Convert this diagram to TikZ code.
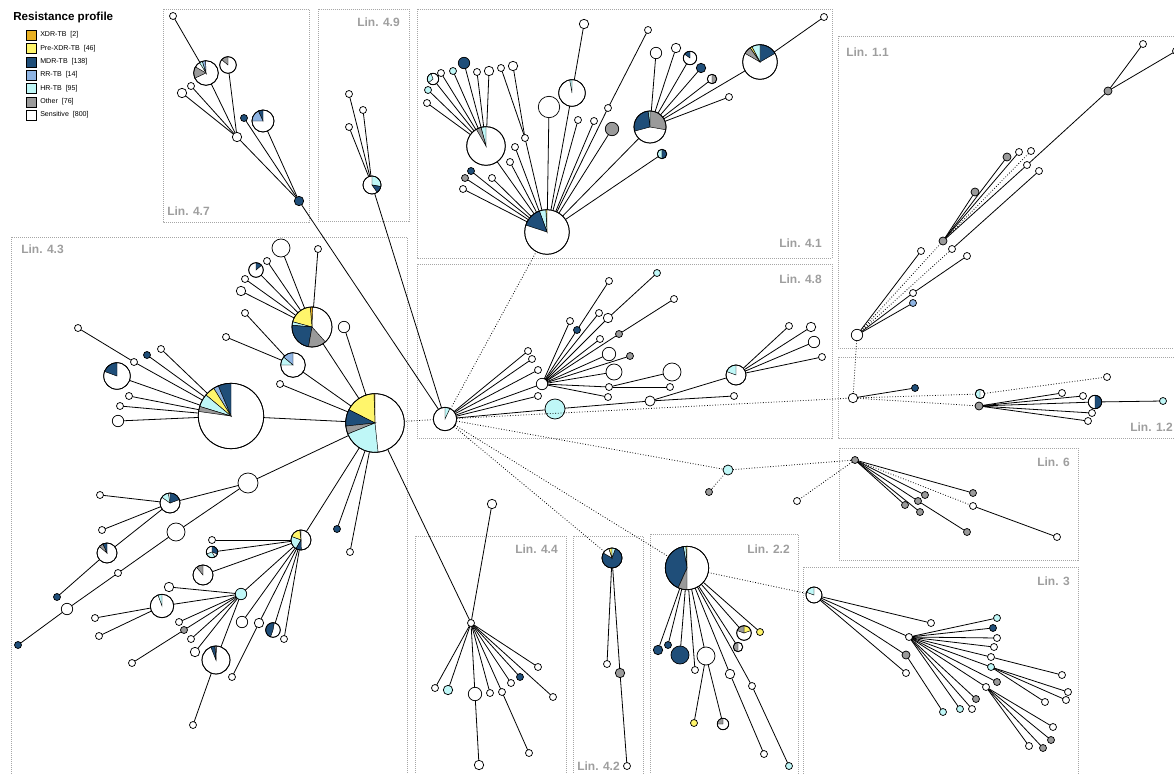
\documentclass[tikz,border=0pt]{standalone}
\usepackage{fontspec}
\setsansfont{Liberation Sans}
\definecolor{xdr}{HTML}{E8B023}
\definecolor{pre}{HTML}{FFF56B}
\definecolor{mdr}{HTML}{1F4E79}
\definecolor{rr}{HTML}{8EB4E3}
\definecolor{hr}{HTML}{BFF7F7}
\definecolor{oth}{HTML}{9A9A9A}
\tikzset{
 nd/.style={circle, draw=black, line width=0.55pt, inner sep=0pt, outer sep=0pt, fill=white},
 ed/.style={line width=0.6pt},
 dt/.style={line width=0.6pt, dash pattern=on 0.6pt off 1.4pt},
 bx/.style={draw=black!35, line width=0.6pt, dash pattern=on 0.75pt off 0.75pt},
 lb/.style={text=black!38, font=\sffamily\bfseries\fontsize{9}{10}\selectfont, inner sep=0pt},
 lg/.style={font=\sffamily\fontsize{5.3}{6}\selectfont, inner sep=0pt, anchor=west},
 lgb/.style={draw=black, line width=0.5pt, minimum size=7.5pt, inner sep=0pt}
}
\newcommand{\Nd}[4][white]{\node[nd, fill=#1, minimum size=#4*1.5pt] (#2) at (#3) {};}
\newcommand{\Pn}[4]{%
 \node[nd, minimum size=#3*1.5pt] (#1) at (#2) {};
 \foreach \pa/\pb/\pc in {#4} {\filldraw[fill=\pc, draw=black, line width=0.35pt] (#1.center) -- ++({\pa}:{#3*0.75pt}) arc[start angle=\pa, end angle=\pb, radius=#3*0.75pt] -- cycle;}
 \draw[line width=0.55pt] (#1.center) circle[radius=#3*0.75pt];}
\begin{document}
\begin{tikzpicture}[x=0.75pt,y=-0.75pt]
\useasboundingbox (0,0) rectangle (1174,774);
% boxes
\draw[bx] (163,9) rectangle (309,222);
\draw[bx] (318,9) rectangle (409,221);
\draw[bx] (417,9) rectangle (832,258);
\draw[bx] (11,237) rectangle (407,800);
\draw[bx] (417,264) rectangle (832,438);
\draw[bx] (838,36) rectangle (1190,348);
\draw[bx] (838,357) rectangle (1190,438);
\draw[bx] (839,448) rectangle (1078,560);
\draw[bx] (415,536) rectangle (566,800);
\draw[bx] (573,536) rectangle (643,800);
\draw[bx] (650,534) rectangle (798,800);
\draw[bx] (803,567) rectangle (1078,800);
\node[lb, anchor=west] (L47) at (167,211) {Lin. 4.7};
\node[lb, anchor=east] (L49) at (400,22) {Lin. 4.9};
\node[lb, anchor=east] (L41) at (822,243) {Lin. 4.1};
\node[lb, anchor=west] (L43) at (21,249) {Lin. 4.3};
\node[lb, anchor=east] (L48) at (822,279) {Lin. 4.8};
\node[lb, anchor=west] (L11) at (846,52) {Lin. 1.1};
\node[lb, anchor=east] (L12) at (1173,427) {Lin. 1.2};
\node[lb, anchor=east] (L6) at (1070,462) {Lin. 6};
\node[lb, anchor=east] (L44) at (558,549) {Lin. 4.4};
\node[lb, anchor=west] (L42) at (577,766) {Lin. 4.2};
\node[lb, anchor=east] (L22) at (790,549) {Lin. 2.2};
\node[lb, anchor=east] (L3) at (1070,581) {Lin. 3};
% legend
\node[font=\sffamily\bfseries\fontsize{8.7}{10}\selectfont, anchor=west, inner sep=0pt] (lt) at (13,18) {Resistance profile};
\node[lgb, fill=xdr] (l1) at (31,35) {}; \node[lg] (l1t) at (40,35) {XDR-TB~~[2]};
\node[lgb, fill=pre] (l2) at (31,48.5) {}; \node[lg] (l2t) at (40,48.5) {Pre-XDR-TB~~[46]};
\node[lgb, fill=mdr] (l3) at (31,62) {}; \node[lg] (l3t) at (40,62) {MDR-TB~~[138]};
\node[lgb, fill=rr] (l4) at (31,75) {}; \node[lg] (l4t) at (40,75) {RR-TB~~[14]};
\node[lgb, fill=hr] (l5) at (31,88.5) {}; \node[lg] (l5t) at (40,88.5) {HR-TB~~[95]};
\node[lgb, fill=oth] (l6) at (31,102) {}; \node[lg] (l6t) at (40,102) {Other~~[76]};
\node[lgb, fill=white] (l7) at (31,115) {}; \node[lg] (l7t) at (40,115) {Sensitive~~[800]};
% Lin 4.7
\Nd{n1}{173,16}{3.5}
\Pn{n2}{206,73}{12.3}{92/108/rr,108/122/hr,150/205/oth}
\Pn{n3}{228,65}{8.3}{90/140/oth}
\Nd{n4}{191,86}{3.5}
\Nd{n5}{182,93}{4.7}
\Nd{n6}{237,137}{4.7}
\Nd[mdr]{n7}{244,118}{3.5}
\Pn{n8}{263,121}{11}{90/115/mdr,115/180/rr}
\Nd[mdr]{n9}{299,201}{4.7}
% Lin 4.9
\Nd{a1}{349,94}{3.5}
\Nd{a2}{363,110}{3.5}
\Nd{a3}{349,127}{3.5}
\Pn{a4}{372,185}{9}{90/-10/hr,-10/-55/mdr}
% Lin 4.1
\Pn{b0}{547,232}{22.3}{90/93/pre,93/110/hr,110/162/mdr}
\Pn{b1}{486,146}{19.3}{90/105/hr,105/120/oth}
\Pn{b1a}{433,79}{5.7}{110/220/hr}
\Nd[hr]{b1b}{428,90}{3.5}
\Nd{b1c}{427,103}{3.5}
\Nd{b1d}{441,73}{3.5}
\Nd[hr]{b1e}{453,71}{3.5}
\Nd[mdr]{b1f}{464,63}{5.7}
\Nd{b1g}{477,72}{3.5}
\Nd{b1h}{489,71}{4.7}
\Nd{b2a}{525,138}{3.5}
\Nd{b2b}{501,68}{3.5}
\Nd{b2c}{513,66}{4.7}
\Nd{b3}{549,107}{10.7}
\Pn{b4}{572,93}{13.3}{90/100/hr}
\Nd{b4a}{584,24}{4.7}
\Nd{b5}{515,147}{3.5}
\Nd{b6}{510,162}{3.5}
\Nd{b7}{492,178}{3.5}
\Nd[mdr]{b8}{471,171}{3.5}
\Nd[oth]{b9}{465,178}{3.5}
\Nd{b10}{463,189}{3.5}
\Nd{b11}{578,120}{3.5}
\Nd{b12}{594,121}{3.5}
\Nd{b13}{608,108}{3.5}
\Nd{b13a}{648,30}{3.5}
\Nd[oth]{b14}{612,129}{6.7}
\Pn{b15}{650,127}{16}{90/-10/oth,90/97/hr,97/195/mdr}
\Pn{b16}{662,154}{4.7}{90/270/hr,-90/90/mdr}
\Nd{b15a}{656,53}{5.7}
\Nd{b15b}{676,48}{4.7}
\Pn{b15c}{690,58}{6.7}{90/145/mdr}
\Nd[mdr]{b15d}{701,68}{4.7}
\Pn{b15e}{712,79}{4.7}{-90/90/oth}
\Nd{b15f}{729,97}{3.5}
\Pn{b17}{760,62}{17.3}{90/30/mdr,90/118/hr,118/125/pre,125/150/oth}
\Nd{b17a}{824,17}{3.5}
% Lin 4.3
\Pn{c0}{375,423}{29.3}{90/92/xdr,92/153/pre,153/186/mdr,186/202/oth,202/276/hr}
\Pn{c1}{231,416}{32.7}{90/113/mdr,113/122/rr,122/140/pre,140/163/hr,163/172/oth}
\Nd{c1a}{118,421}{5.7}
\Nd{c1b}{120,406}{3.5}
\Nd{c1c}{129,396}{3.5}
\Pn{c1d}{117,376}{13.3}{90/160/mdr}
\Nd{c1e}{134,362}{3.5}
\Nd{c1f}{78,328}{3.5}
\Nd[mdr]{c1g}{147,355}{3.5}
\Nd{c1h}{161,349}{3.5}
\Pn{c2}{312,327}{20}{88/95/xdr,95/165/pre,165/175/hr,175/260/mdr,260/312/oth}
\Nd{c2a}{281,248}{9}
\Nd{c2b}{318,249}{3.5}
\Nd{c2c}{267,261}{3.5}
\Pn{c2d}{256,270}{7.3}{90/40/mdr}
\Nd{c2e}{245,279}{3.5}
\Nd{c2f}{241,291}{4.7}
\Pn{c3}{293,365}{12.3}{90/140/rr,140/180/hr}
\Nd{c3a}{245,313}{3.5}
\Nd{c3b}{226,337}{3.5}
\Nd{c4}{344,327}{5.7}
\Nd{c5}{280,384}{3.5}
\Nd{d1}{248,483}{10}
\Pn{d2}{170,503}{10}{90/20/mdr,100/145/hr}
\Nd{d2a}{100,495}{3.5}
\Nd{d2b}{102,530}{3.5}
\Pn{d3}{107,553}{10}{90/115/mdr,115/140/oth}
\Nd[mdr]{d3a}{57,597}{3.5}
\Nd{d4x}{176,532}{9}
\Nd{d4y}{118,573}{3.5}
\Nd{d4z}{67,609}{5.7}
\Nd[mdr]{d4w}{18,645}{3.5}
\Pn{d5}{301,540}{10}{90/97/oth,97/160/pre,160/240/hr,240/272/mdr}
\Nd[mdr]{d6}{337,529}{3.5}
\Nd{d7}{350,552}{3.5}
\Nd{d5a}{212,540}{3.5}
\Pn{d5b}{212,552}{5.7}{90/-20/mdr,200/300/hr}
\Pn{d5c}{203,575}{10}{90/130/oth}
\Nd[hr]{d5d}{241,594}{5.7}
\Nd{d5e}{242,622}{5.7}
\Nd{d5f}{259,623}{4.7}
\Pn{d5g}{273,630}{7.3}{80/250/mdr}
\Nd{d5h}{284,639}{3.5}
\Nd{d5fa}{232,677}{3.5}
\Nd{d8a}{169,587}{4.7}
\Pn{d8b}{162,606}{11.7}{90/110/hr}
\Nd{d8c}{179,622}{3.5}
\Nd[oth]{d8d}{184,630}{3.5}
\Nd{d8e}{191,639}{3.5}
\Nd{d8f}{195,652}{4.7}
\Pn{d8g}{216,660}{14}{88/95/oth,95/112/mdr}
\Nd{d8ba}{95,618}{3.5}
\Nd{d8bb}{99,636}{3.5}
\Nd{d8da}{132,663}{3.5}
\Nd{d8ga}{193,725}{3.5}
% Lin 4.8
\Pn{h0}{445,419}{11.7}{90/65/hr}
\Nd{g1}{542,384}{5.7}
\Nd{g2}{528,351}{3.5}
\Nd{g3}{532,359}{3.5}
\Nd{g4}{538,370}{3.5}
\Nd{g5}{538,396}{3.5}
\Nd[hr]{g6}{555,409}{10}
\Nd{g7}{650,401}{5}
\Nd{g8}{734,396}{3.5}
\Pn{g9}{736,375}{10}{90/160/hr}
\Nd{g9a}{789,326}{3.5}
\Nd{g9b}{811,327}{4.7}
\Nd{g9c}{814,342}{5.7}
\Nd{g9d}{822,357}{3.5}
\Nd{g1a}{570,321}{3.5}
\Nd[mdr]{g1b}{577,330}{3.5}
\Nd{g1ba}{609,281}{3.5}
\Nd{g1c}{599,313}{3.5}
\Nd{g1d}{608,318}{4.7}
\Nd[hr]{g1da}{657,273}{3.5}
\Nd{g1e}{600,339}{3.5}
\Nd[oth]{g1f}{619,334}{3.5}
\Nd{g1fa}{674,299}{3.5}
\Nd{g1g}{609,354}{6.7}
\Nd[oth]{g1h}{630,356}{3.5}
\Nd{g1i}{614,372}{8}
\Nd{g1j}{609,387}{3.5}
\Nd{g1ja}{670,387}{3.5}
\Nd{g1jb}{672,372}{9}
\Nd{g1k}{608,397}{3.5}
% Lin 1.1
\Nd{k0}{857,335}{5.7}
\Nd[oth]{k1}{943,241}{4}
\Nd[oth]{k2}{975,192}{4}
\Nd[oth]{k3}{1007,157}{4}
\Nd{k4}{1019,152}{3.5}
\Nd{k5}{1031,151}{3.5}
\Nd{k6}{1027,165}{3.5}
\Nd[oth]{k7}{1108,91}{4}
\Nd{k8}{1143,44}{3.5}
\Nd{k9}{1176,51}{3.5}
\Nd{k10}{1039,171}{3.5}
\Nd{k11}{921,251}{3.5}
\Nd{k12}{952,249}{3.5}
\Nd{k13}{967,256}{3.5}
\Nd{k14}{913,293}{3.5}
\Nd[rr]{k15}{913,303}{3.5}
% Lin 1.2
\Nd{m0}{853,398}{4.7}
\Nd[mdr]{m1}{915,388}{3.5}
\Pn{m2}{980,394}{4.7}{90/270/hr}
\Nd[oth]{m3}{979,406}{4}
\Nd{m4}{1107,377}{3.5}
\Nd{m5}{1062,393}{3.5}
\Nd{m6}{1083,396}{3.5}
\Pn{m7}{1095,402}{6.7}{-90/90/mdr}
\Nd{m8}{1092,413}{3.5}
\Nd{m9}{1088,421}{3.5}
\Nd[hr]{m10}{1163,401}{3.5}
% Lin 6
\Nd[hr]{q0}{728,470}{5}
\Nd[oth]{q1}{709,492}{3.5}
\Nd[oth]{q2}{855,460}{3.5}
\Nd{q3}{797,501}{3.5}
\Nd[oth]{q4}{973,493}{3.5}
\Nd[oth]{q5}{925,495}{3.5}
\Nd[oth]{q6}{918,501}{3.5}
\Nd[oth]{q7}{905,505}{3.5}
\Nd[oth]{q8}{920,512}{3.5}
\Nd[oth]{q9}{967,532}{3.5}
\Nd{q10}{973,506}{3.5}
\Nd{q11}{1057,537}{3.5}
% Lin 4.4
\Nd{e0}{471,623}{3.5}
\Nd{e1}{492,504}{4.7}
\Nd{e2}{435,688}{3.5}
\Nd[hr]{e3}{448,690}{4.7}
\Nd{e4}{475,694}{6.7}
\Nd{e4a}{479,765}{4.7}
\Nd{e5}{490,693}{3.5}
\Nd{e6}{502,692}{3.5}
\Nd{e6a}{529,753}{3.5}
\Nd{e7}{511,683}{3.5}
\Nd[mdr]{e8}{520,677}{3.5}
\Nd{e9}{538,667}{3.5}
\Nd{e10}{553,697}{3.5}
% Lin 4.2
\Pn{f0}{612,558}{10}{150/430/mdr,108/150/white,90/108/pre,70/90/hr}
\Nd{f1}{607,664}{3.5}
\Nd[oth]{f2}{620,673}{4.7}
\Nd{f3}{627,766}{3.5}
% Lin 2.2
\Pn{r0}{687,568}{21.7}{90/93/pre,93/100/hr,100/246/mdr,246/270/oth}
\Nd[mdr]{r1}{658,650}{4.7}
\Nd[mdr]{r2}{668,645}{3.5}
\Nd[mdr]{r3}{680,655}{9}
\Nd{r4}{695,670}{3.5}
\Nd{r5}{706,656}{9}
\Nd[pre]{r5a}{694,723}{3.5}
\Pn{r5b}{723,724}{5.7}{90/180/oth}
\Nd{r6}{730,674}{4.7}
\Nd{r6a}{764,754}{3.5}
\Nd{r7}{752,686}{3.5}
\Nd[hr]{r7a}{789,766}{3.5}
\Pn{r8}{738,647}{4.7}{90/270/oth}
\Pn{r9}{744,633}{7.3}{90/20/pre,90/160/oth}
\Nd[pre]{r10}{760,632}{3.5}
% Lin 3
\Pn{p0}{814,595}{8}{90/160/hr}
\Nd{p1}{931,623}{3.5}
\Nd{p2}{909,637}{3.5}
\Nd[oth]{p3}{906,655}{4}
\Nd{p4}{906,673}{3.5}
\Nd[hr]{p3a}{943,712}{3.5}
\Nd[hr]{p5}{997,618}{3.5}
\Nd[mdr]{p6}{993,628}{3.5}
\Nd{p7}{997,638}{3.5}
\Nd{p8}{994,647}{3.5}
\Nd{p9}{991,657}{3.5}
\Nd[hr]{p10}{991,667}{3.5}
\Nd[oth]{p11}{997,682}{3.5}
\Nd{p12}{986,687}{3.5}
\Nd[oth]{p13}{976,699}{3.5}
\Nd{p14}{972,709}{3.5}
\Nd[hr]{p15}{960,709}{3.5}
\Nd{p9a}{1062,675}{3.5}
\Nd{p10a}{1068,692}{3.5}
\Nd{p10b}{1066,700}{3.5}
\Nd{p10c}{1045,702}{3.5}
\Nd{p12a}{1053,727}{3.5}
\Nd[oth]{p12b}{1051,740}{3.5}
\Nd[oth]{p12c}{1043,748}{3.5}
\Nd{p12d}{1029,746}{3.5}
% solid edges
\foreach \u/\v in {n1/n2,n2/n6,n3/n6,n4/n6,n5/n6,n6/n9,n7/n9,n8/n9,n9/h0,
 a1/a4,a2/a4,a3/a4,a4/h0,
 b0/b1,b1/b1a,b1/b1b,b1/b1c,b1/b1d,b1/b1e,b1/b1f,b1/b1g,b1/b1h,
 b0/b2a,b2a/b2b,b2a/b2c,b0/b3,b0/b4,b4/b4a,b0/b5,b0/b6,b0/b7,b0/b8,b0/b9,b0/b10,b0/b11,b0/b12,b0/b13,b13/b13a,b0/b14,b0/b15,b0/b16,
 b15/b15a,b15/b15b,b15/b15c,b15/b15d,b15/b15e,b15/b15f,b15/b17,b17/b17a,
 c0/c1,c1/c1a,c1/c1b,c1/c1c,c1/c1d,c1/c1e,c1e/c1f,c1/c1g,c1/c1h,
 c0/c2,c2/c2a,c2/c2b,c2/c2c,c2/c2d,c2/c2e,c2/c2f,
 c0/c3,c3/c3a,c3/c3b,c0/c4,c0/c5,
 c0/d1,d1/d2,d2/d2a,d2/d2b,d2/d3,d3/d3a,d1/d4x,d4x/d4y,d4y/d4z,d4z/d4w,
 c0/d5,c0/d6,c0/d7,d5/d5a,d5/d5b,d5/d5c,d5/d5d,d5/d5e,d5/d5f,d5/d5g,d5/d5h,d5f/d5fa,
 d5d/d8a,d5d/d8b,d5d/d8c,d5d/d8d,d5d/d8e,d5d/d8f,d5d/d8g,d8b/d8ba,d8b/d8bb,d8d/d8da,d8g/d8ga,
 c0/e0,e0/e1,e0/e2,e0/e3,e0/e4,e0/e5,e0/e6,e0/e7,e0/e8,e0/e9,e0/e10,e4/e4a,e6/e6a,
 h0/g1,h0/g2,h0/g3,h0/g4,h0/g5,h0/g6,g6/g7,g7/g8,g7/g9,g9/g9a,g9/g9b,g9/g9c,g9/g9d,
 g1/g1a,g1/g1b,g1b/g1ba,g1/g1c,g1/g1d,g1d/g1da,g1/g1e,g1/g1f,g1f/g1fa,g1/g1g,g1/g1h,g1/g1i,g1/g1j,g1j/g1ja,g1j/g1jb,g1/g1k,
 k0/k11,k0/k14,k14/k13,k0/k15,k12/k10,k1/k2,k1/k3,k1/k4,k1/k6,k6/k7,k7/k8,k7/k9,
 m0/m1,m3/m5,m3/m6,m3/m7,m3/m8,m3/m9,m7/m10,
 q2/q4,q2/q5,q2/q6,q2/q7,q2/q8,q6/q9,q10/q11,
 f0/f1,f0/f2,f2/f3,
 r0/r1,r0/r2,r0/r3,r0/r4,r0/r5,r5/r5a,r5/r5b,r0/r6,r6/r6a,r0/r7,r7/r7a,r0/r8,r0/r9,r0/r10,
 p0/p1,p0/p2,p0/p3,p0/p4,p3/p3a,p2/p5,p2/p6,p2/p7,p2/p8,p2/p9,p2/p10,p2/p11,p2/p12,p2/p13,p2/p14,p2/p15,
 p9/p9a,p10/p10a,p10/p10b,p10/p10c,p12/p12a,p12/p12b,p12/p12c,p12/p12d}
 {\draw[ed] (\u) -- (\v);}
% dotted edges
\foreach \u/\v in {h0/c0,h0/b0,h0/m0,h0/q0,h0/f0,h0/r0,r0/p0,k0/m0,k0/k1,k0/k12,k1/k5,m0/m2,m0/m3,m2/m4,q0/q1,q0/q2,q2/q3,q2/q10}
 {\draw[dt] (\u) -- (\v);}
\end{tikzpicture}
\end{document}
